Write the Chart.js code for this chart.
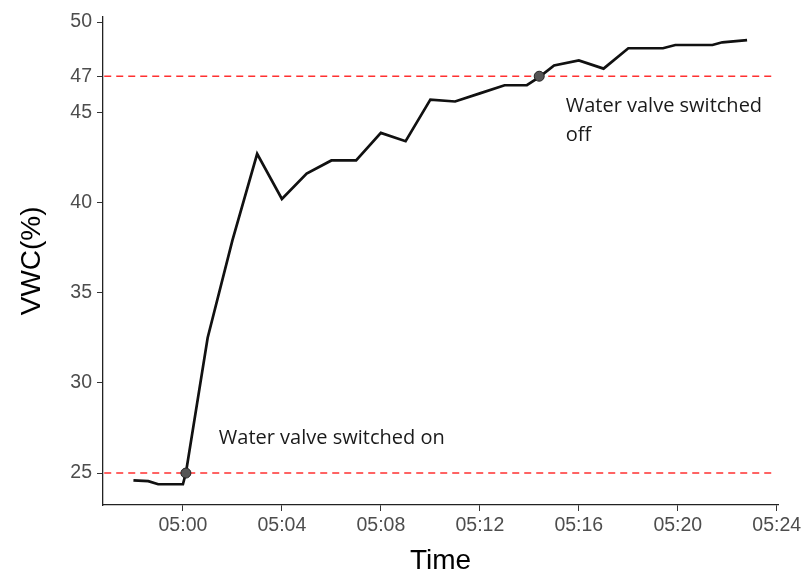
<!DOCTYPE html>
<html lang="en">
<head>
<meta charset="UTF-8">
<title>VWC over time</title>
<script src="https://cdn.jsdelivr.net/npm/chart.js"></script>
<style>
  html, body { margin: 0; padding: 0; background: #fff; }
</style>
</head>
<body>
<canvas id="vwc" width="806" height="578"></canvas>
<script>
// time in minutes after 05:00
const minutes = [-2.0, -1.4, -1.0, 0.0, 0.12, 1.0, 2.0, 3.0, 4.0, 5.0, 6.0, 7.0, 8.0, 9.0,
                 10.0, 11.0, 12.0, 13.0, 13.9, 14.4, 15.0, 16.0, 17.0, 18.0, 19.4, 19.9, 21.4, 21.8, 22.8];
const vwc = [24.6, 24.55, 24.38, 24.38, 25.0, 32.5, 37.9, 42.7, 40.2, 41.6, 42.33, 42.33, 43.86, 43.4,
             45.7, 45.6, 46.05, 46.5, 46.5, 46.95, 47.6, 47.88, 47.42, 48.55, 48.55, 48.73, 48.73, 48.88, 49.0];

const xTicks = [0, 4, 8, 12, 16, 20, 24];
const yTicks = [25, 30, 35, 40, 45, 47, 50];

// valve switched on / off
const valveMinutes = [0.12, 14.4];
const valveVwc = [25, 47];
const thresholds = [25, 47];

const xMin = -3.23, xMax = 24.05;
const yMin = 23.23, yMax = 50.3;

const notes = [
    { x: 1.45, y: 26.93, lines: ['Water valve switched on'] },
    { x: 15.47, y: 45.33, lines: ['Water valve switched', 'off'] }
];

function fmtTime(m) {
    return '05:' + String(m).padStart(2, '0');
}

const noteText = {
    id: 'noteText',
    afterDatasetsDraw(chart) {
        const ctx = chart.ctx;
        const xs = chart.scales.x, ys = chart.scales.y;
        ctx.save();
        ctx.font = '20px "Open Sans"';
        ctx.fillStyle = '#1a1a1a';
        ctx.textBaseline = 'middle';
        ctx.textAlign = 'left';
        notes.forEach(n => {
            const px = xs.getPixelForValue(n.x);
            const py = ys.getPixelForValue(n.y);
            n.lines.forEach((t, i) => ctx.fillText(t, px, py + i * 29));
        });
        ctx.restore();
    }
};

const dashed = thresholds.map(v => ({
    data: [{ x: xMin + 0.05, y: v }, { x: 23.9, y: v }],
    borderColor: '#ff3030',
    borderWidth: 1.5,
    borderDash: [7, 5],
    pointRadius: 0
}));

const tickFont = { family: '"Liberation Sans", Arial', size: 19.5 };
const titleFont = { family: '"Liberation Sans", Arial', size: 28 };

new Chart(document.getElementById('vwc'), {
    type: 'line',
    data: {
        datasets: [
            {
                data: valveMinutes.map((m, i) => ({ x: m, y: valveVwc[i] })),
                showLine: false,
                pointRadius: 5,
                pointBackgroundColor: '#555',
                pointBorderColor: '#222',
                pointBorderWidth: 1
            },
            {
                data: minutes.map((m, i) => ({ x: m, y: vwc[i] })),
                borderColor: '#111',
                borderWidth: 2.7,
                pointRadius: 0,
                tension: 0
            },
            ...dashed
        ]
    },
    options: {
        responsive: false,
        animation: false,
        layout: { padding: { top: 15, right: 28, left: 0, bottom: 0 } },
        plugins: { legend: { display: false }, tooltip: { enabled: false } },
        scales: {
            x: {
                type: 'linear',
                min: xMin,
                max: xMax,
                afterBuildTicks: s => { s.ticks = xTicks.map(v => ({ value: v })); },
                afterFit: s => { s.height = 73; },
                grid: { drawOnChartArea: false, drawTicks: true, tickLength: 6, color: '#333', lineWidth: 1 },
                border: { display: true, color: '#222', width: 1.3 },
                ticks: {
                    autoSkip: false, maxRotation: 0, padding: 3,
                    color: '#4d4d4d',
                    font: tickFont,
                    callback: v => fmtTime(v)
                },
                title: {
                    display: true, text: 'Time', color: '#000',
                    font: titleFont,
                    padding: { top: 0, bottom: 0 }
                }
            },
            y: {
                min: yMin,
                max: yMax,
                afterBuildTicks: s => { s.ticks = yTicks.map(v => ({ value: v })); },
                afterFit: s => { s.width = 103; },
                grid: { drawOnChartArea: false, drawTicks: true, tickLength: 6, color: '#333', lineWidth: 1 },
                border: { display: true, color: '#222', width: 1.3 },
                ticks: {
                    autoSkip: false, padding: 5,
                    color: '#4d4d4d',
                    font: tickFont
                },
                title: {
                    display: true, text: 'VWC(%)', color: '#000',
                    font: titleFont,
                    padding: { top: 15, bottom: 0 }
                }
            }
        }
    },
    plugins: [noteText]
});
</script>
</body>
</html>
